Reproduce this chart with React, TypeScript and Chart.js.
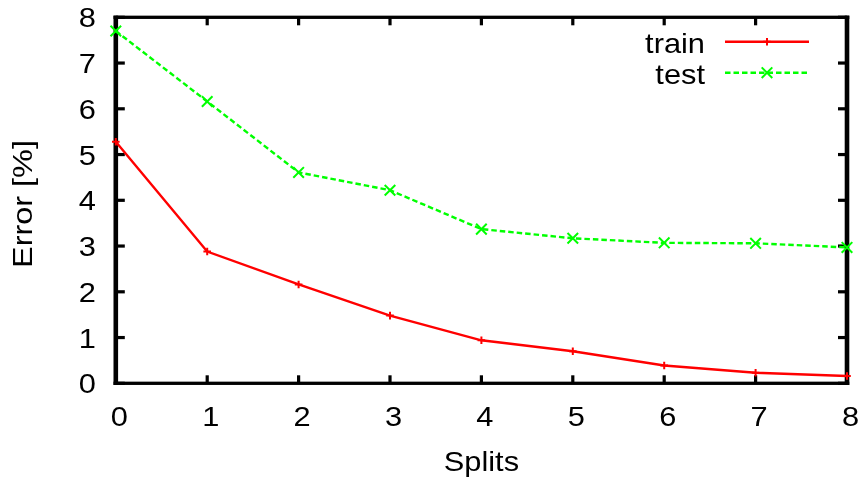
import React, { useEffect, useRef } from "react";
import { Chart, registerables } from "chart.js";

Chart.register(...registerables);

const splits = [0, 1, 2, 3, 4, 5, 6, 7, 8];
const trainError = [5.28, 2.88, 2.16, 1.48, 0.94, 0.70, 0.39, 0.23, 0.16];
const testError = [7.70, 6.16, 4.61, 4.22, 3.37, 3.17, 3.07, 3.06, 2.97];
const seriesLabels = ["train", "test"];
const xTitle = "Splits";
const yTitle = "Error [%]";

const FONT = "'Liberation Sans', Arial, Helvetica, sans-serif";
const W = 859;
const H = 482;

function drawText(
  ctx: CanvasRenderingContext2D,
  text: string,
  x: number,
  y: number,
  size: number,
  align: CanvasTextAlign,
  sx: number,
  rotate = false
) {
  ctx.save();
  ctx.translate(x, y);
  if (rotate) ctx.rotate(-Math.PI / 2);
  ctx.scale(sx, 1);
  ctx.font = `${size}px ${FONT}`;
  ctx.fillStyle = "#000";
  ctx.textAlign = align;
  ctx.textBaseline = "alphabetic";
  ctx.fillText(text, 0, 0);
  ctx.restore();
}

const framePlugin = {
  id: "gnuFrame",
  beforeDatasetsDraw(chart: any) {
    const { ctx, chartArea } = chart;
    const { left, right, top, bottom } = chartArea;
    const xs = chart.scales.x;
    const ys = chart.scales.y;
    const vw = 4.6; // vertical border thickness
    const hw = 3.3; // horizontal border thickness
    ctx.save();
    ctx.fillStyle = "#000";
    ctx.fillRect(left - vw / 2, top - hw / 2, right - left + vw, hw);
    ctx.fillRect(left - vw / 2, bottom - hw / 2, right - left + vw, hw);
    ctx.fillRect(left - vw / 2, top - hw / 2, vw, bottom - top + hw);
    ctx.fillRect(right - vw / 2, top - hw / 2, vw, bottom - top + hw);
    const tl = 8;
    xs.ticks.forEach((t: any) => {
      const px = xs.getPixelForValue(t.value);
      ctx.fillRect(px - 1.6, bottom - tl, 3.2, tl);
      ctx.fillRect(px - 1.6, top, 3.2, tl);
    });
    ys.ticks.forEach((t: any) => {
      const py = ys.getPixelForValue(t.value);
      ctx.fillRect(left, py - 1.6, tl + 1, 3.2);
      ctx.fillRect(right - tl - 1, py - 1.6, tl + 1, 3.2);
    });
    ctx.restore();

    // tick labels and axis titles
    const TS = 28;
    const SX = 1.1;
    xs.ticks.forEach((t: any) => {
      drawText(ctx, String(t.value), xs.getPixelForValue(t.value) + 3.5, 425.5, TS, "center", SX);
    });
    ys.ticks.forEach((t: any) => {
      drawText(ctx, String(t.value), 96, ys.getPixelForValue(t.value) + 10, TS, "right", SX);
    });
    drawText(ctx, xTitle, (left + right) / 2, 470.5, TS, "center", SX);
    drawText(ctx, yTitle, 31.5, 204, 27, "center", 1.2, true);
  },
};

const legendPlugin = {
  id: "gnuLegend",
  afterDatasetsDraw(chart: any) {
    const { ctx } = chart;
    const textRight = 705;
    const x0 = 725;
    const x1 = 809;
    const rows = [41.7, 72.7];
    const baselines = [53, 83.5];
    ctx.save();
    chart.data.datasets.forEach((ds: any, i: number) => {
      const y = rows[i];
      drawText(ctx, ds.label, textRight, baselines[i], 28, "right", 1.1);
      ctx.strokeStyle = ds.borderColor;
      ctx.lineWidth = ds.borderWidth;
      ctx.setLineDash(ds.borderDash || []);
      ctx.beginPath();
      ctx.moveTo(x0, y);
      ctx.lineTo(x1, y);
      ctx.stroke();
      ctx.setLineDash([]);
      ctx.lineWidth = ds.pointBorderWidth;
      ctx.strokeStyle = ds.pointBorderColor;
      const mx = (x0 + x1) / 2;
      const r = ds.pointRadius;
      ctx.beginPath();
      if (ds.pointStyle === "cross") {
        ctx.moveTo(mx - r, y);
        ctx.lineTo(mx + r, y);
        ctx.moveTo(mx, y - r);
        ctx.lineTo(mx, y + r);
      } else {
        const d = r * 0.707;
        ctx.moveTo(mx - d, y - d);
        ctx.lineTo(mx + d, y + d);
        ctx.moveTo(mx - d, y + d);
        ctx.lineTo(mx + d, y - d);
      }
      ctx.stroke();
    });
    ctx.restore();
  },
};

export default function App() {
  const ref = useRef<HTMLCanvasElement | null>(null);

  useEffect(() => {
    if (!ref.current) return;
    const chart = new Chart(ref.current, {
      type: "line",
      data: {
        datasets: [
          {
            label: seriesLabels[0],
            data: splits.map((s, i) => ({ x: s, y: trainError[i] })),
            borderColor: "#ff0000",
            backgroundColor: "#ff0000",
            borderWidth: 2.4,
            pointStyle: "cross",
            pointRadius: 3.8,
            pointBorderWidth: 2,
            pointBorderColor: "#ff0000",
            tension: 0,
            fill: false,
            clip: false as any,
          },
          {
            label: seriesLabels[1],
            data: splits.map((s, i) => ({ x: s, y: testError[i] })),
            borderColor: "#00ff00",
            backgroundColor: "#00ff00",
            borderWidth: 2.4,
            borderDash: [5.5, 3],
            pointStyle: "crossRot",
            pointRadius: 7.5,
            pointBorderWidth: 2,
            pointBorderColor: "#00ff00",
            tension: 0,
            fill: false,
            clip: false as any,
          },
        ],
      },
      options: {
        responsive: false,
        maintainAspectRatio: false,
        animation: false,
        layout: { padding: { left: 0, right: 12, top: 17.3, bottom: 0 } },
        plugins: {
          legend: { display: false },
          tooltip: { enabled: false },
        },
        scales: {
          x: {
            type: "linear",
            min: 0,
            max: 8,
            grid: { display: false, drawTicks: false },
            border: { display: false },
            ticks: { stepSize: 1, display: false },
            title: { display: false, text: xTitle },
            afterFit(scale: any) {
              scale.height = 98.7;
              scale.paddingLeft = 0;
              scale.paddingRight = 0;
            },
          },
          y: {
            type: "linear",
            min: 0,
            max: 8,
            grid: { display: false, drawTicks: false },
            border: { display: false },
            ticks: { stepSize: 1, display: false },
            title: { display: false, text: yTitle },
            afterFit(scale: any) {
              scale.width = 115.8;
              scale.paddingTop = 0;
              scale.paddingBottom = 0;
            },
          },
        },
      },
      plugins: [framePlugin, legendPlugin],
    });
    return () => chart.destroy();
  }, []);

  return (
    <div style={{ position: "absolute", left: 0, top: 0, width: W, height: H, background: "#fff", overflow: "hidden" }}>
      <canvas ref={ref} width={W} height={H} style={{ width: W, height: H, display: "block" }} />
    </div>
  );
}
